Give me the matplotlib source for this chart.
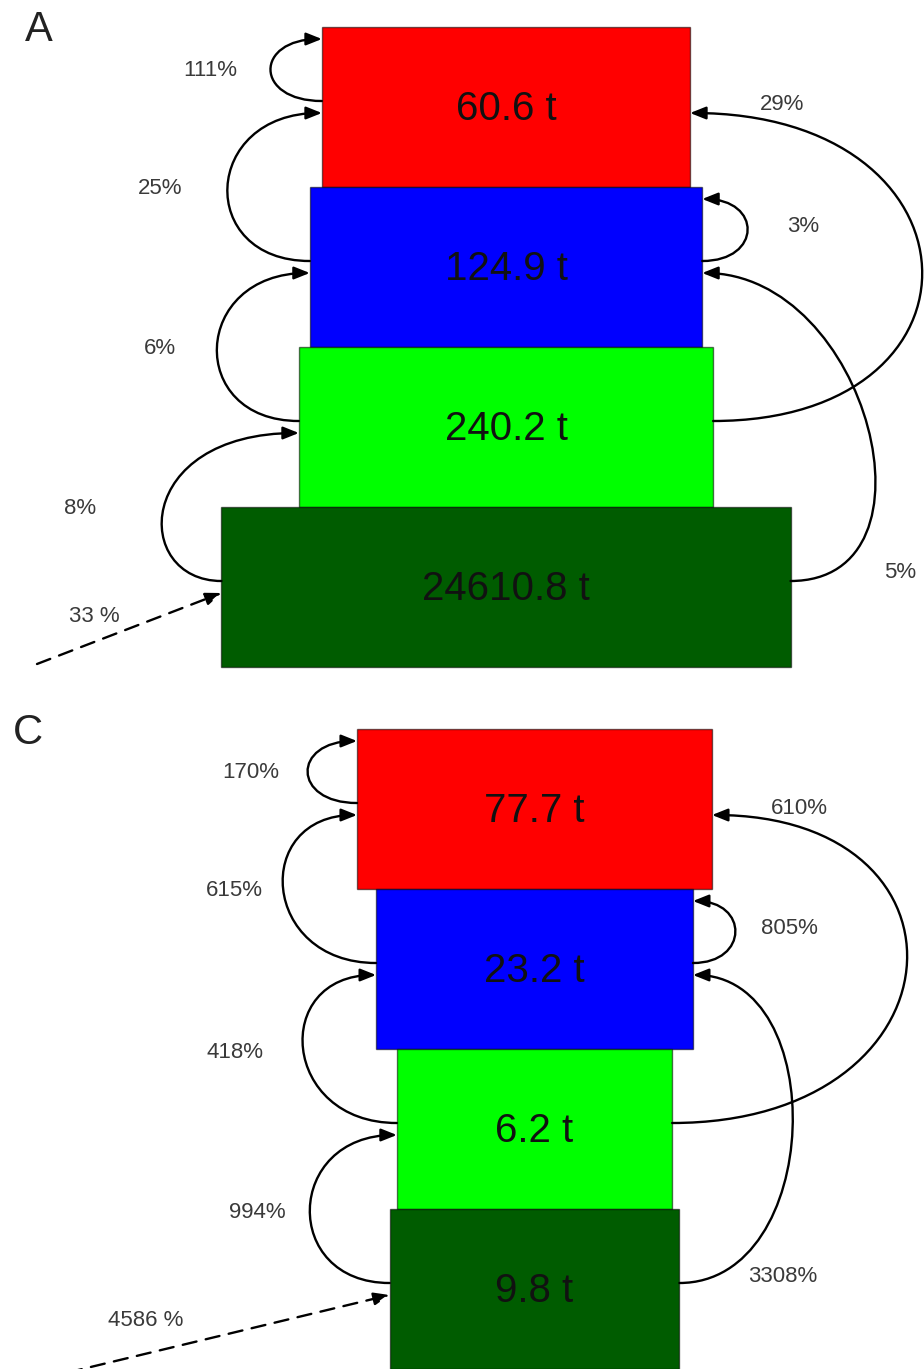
import matplotlib.pyplot as plt
import numpy as np
from matplotlib.path import Path
from matplotlib.patches import Rectangle, FancyArrowPatch

plt.rcParams["font.family"] = ["Liberation Sans", "DejaVu Sans"]

# standing stock per trophic level, listed top level first
level_colors = ["#ff0000", "#0000ff", "#00ff00", "#005c00"]
stock_a = [60.6, 124.9, 240.2, 24610.8]
stock_c = [77.7, 23.2, 6.2, 9.8]

# flows as (source level, target level, label)
left_flows_a = [(0, 0, "111%"), (1, 0, "25%"), (2, 1, "6%"), (3, 2, "8%")]
right_flows_a = [(2, 0, "29%"), (1, 1, "3%"), (3, 1, "5%")]
import_a = "33 %"

left_flows_c = [(0, 0, "170%"), (1, 0, "615%"), (2, 1, "418%"), (3, 2, "994%")]
right_flows_c = [(2, 0, "610%"), (1, 1, "805%"), (3, 1, "3308%")]
import_c = "4586 %"

# drawing geometry (pixels, y grows downward)
W, H = 924, 1369
BOX_H = 160
LOG_OFFSET = 3.0     # box width ~ log10(stock) + offset
OUT_DY = 74          # where flows leave a box
IN_DY = 86           # where flows enter a box
LOOP_DY = 12         # where a self loop re-enters

# bulge = how far the curve swings out past the mean of its end x's
# skew  = how much of the end x offset the control points keep (0..1)
layout_a = dict(
    tag="A", tag_xy=(39, 30), top=27, cx=506, ppd=77,
    left_bulge=[51, 88, 87, 96], left_skew=[0.5, 0.5, 0.5, 0.0],
    right_bulge=[220, 45, 121], right_skew=[0.5, 0.5, 0.9],
    left_text=[(210, 70), (160, 189), (160, 348), (80, 509)],
    right_text=[(782, 105), (803, 227), (900, 572)],
    import_from=(37, 664), import_text=(94, 617),
)
layout_c = dict(
    tag="C", tag_xy=(28, 733), top=729, cx=534.5, ppd=72.6,
    left_bulge=[49, 83, 83, 83], left_skew=[0.5, 0.5, 0.5, 0.5],
    right_bulge=[214, 42, 106], right_skew=[0.5, 0.5, 0.6],
    left_text=[(251, 773), (234, 891), (235, 1052), (257, 1212)],
    right_text=[(799, 808), (789, 928), (783, 1276)],
    import_from=(45, 1378), import_text=(146, 1320),
)

ARROW = "-|>,head_length=0.95,head_width=0.38"


def curved_arrow(ax, start, end, bulge, skew, side):
    # cubic bezier with horizontal tangents at both ends
    xm = (start[0] + end[0]) / 2
    xc = (xm + side * bulge - 0.25 * xm) / 0.75
    p1 = (xc + skew * (start[0] - xm), start[1])
    p2 = (xc + skew * (end[0] - xm), end[1])
    path = Path([start, p1, p2, end],
                [Path.MOVETO, Path.CURVE4, Path.CURVE4, Path.CURVE4])
    ax.add_patch(FancyArrowPatch(path=path, arrowstyle=ARROW,
                                 mutation_scale=10, lw=1.7, color="black",
                                 zorder=3))


def draw_panel(ax, stock, left_flows, right_flows, import_label, lay):
    stock = np.asarray(stock)
    widths = lay["ppd"] * (np.log10(stock) + LOG_OFFSET)
    lefts = lay["cx"] - widths / 2
    rights = lay["cx"] + widths / 2
    tops = lay["top"] + BOX_H * np.arange(len(stock))

    for i, v in enumerate(stock):
        ax.add_patch(Rectangle((lefts[i], tops[i]), widths[i], BOX_H,
                               facecolor=level_colors[i],
                               edgecolor=(0, 0, 0, 0.55), lw=1.0, zorder=2))
        ax.text(lay["cx"], tops[i] + BOX_H / 2 + 2, f"{v} t",
                ha="center", va="center", fontsize=29, color="#111111",
                zorder=4)

    for flows, edges, bulges, skews, texts, side in [
        (left_flows, lefts, lay["left_bulge"], lay["left_skew"],
         lay["left_text"], -1),
        (right_flows, rights, lay["right_bulge"], lay["right_skew"],
         lay["right_text"], 1),
    ]:
        for (src, dst, lab), bulge, skew, pos in zip(flows, bulges, skews, texts):
            start = (edges[src], tops[src] + OUT_DY)
            dy = LOOP_DY if src == dst else IN_DY
            end = (edges[dst], tops[dst] + dy)
            curved_arrow(ax, start, end, bulge, skew, side)
            ax.text(*pos, lab, ha="center", va="center", fontsize=16,
                    color="#3a3a3a")

    # external input into the base level
    base = len(stock) - 1
    ax.add_patch(FancyArrowPatch(lay["import_from"],
                                 (lefts[base], tops[base] + IN_DY),
                                 arrowstyle=ARROW, mutation_scale=10,
                                 lw=1.7, color="black",
                                 linestyle=(0, (6, 4)),
                                 shrinkA=0, shrinkB=0, zorder=3))
    ax.text(*lay["import_text"], import_label, ha="center", va="center",
            fontsize=16, color="#3a3a3a")

    ax.text(*lay["tag_xy"], lay["tag"], ha="center", va="center",
            fontsize=30, color="#222222")


fig = plt.figure(figsize=(W / 100, H / 100), dpi=100)
ax = fig.add_axes([0, 0, 1, 1])
ax.set_xlim(0, W)
ax.set_ylim(H, 0)
ax.axis("off")

draw_panel(ax, stock_a, left_flows_a, right_flows_a, import_a, layout_a)
draw_panel(ax, stock_c, left_flows_c, right_flows_c, import_c, layout_c)

fig.savefig("out.png", dpi=100, facecolor="white")
